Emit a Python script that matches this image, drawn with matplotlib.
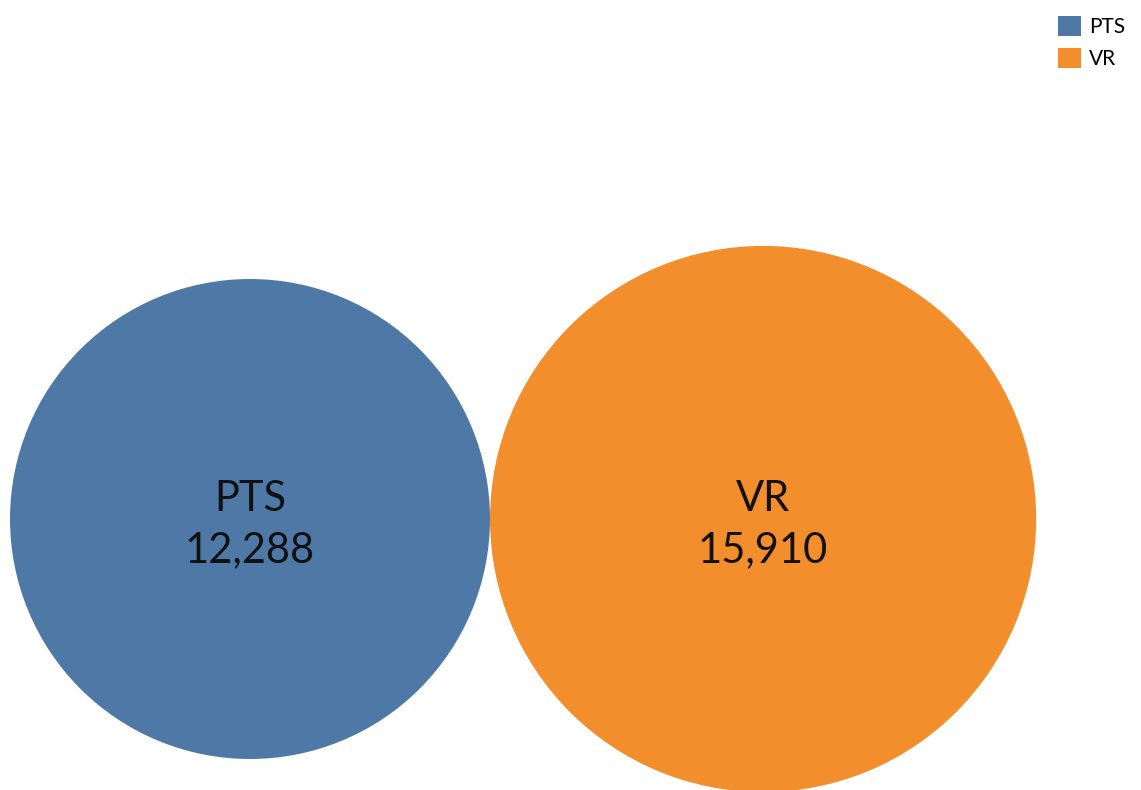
import matplotlib.pyplot as plt
import numpy as np
from matplotlib.patches import Circle, Patch

# values shown in each bubble
labels = ["PTS", "VR"]
values = [12288, 15910]
colors = ["#4e79a7", "#f28e2b"]

plt.rcParams['font.family'] = ['Lato', 'DejaVu Sans']

fig = plt.figure(figsize=(11.41, 7.90), dpi=100)
ax = fig.add_axes([0, 0, 1, 1])
ax.set_xlim(0, 1141)
ax.set_ylim(790, 0)
ax.set_aspect('equal')
ax.axis('off')

# bubble area proportional to value
scale = 240 / np.sqrt(values[0])
radii = [scale * np.sqrt(v) for v in values]

x = 10
cy = 519
for lab, val, col, r in zip(labels, values, colors, radii):
    cx = x + r
    ax.add_patch(Circle((cx, cy), r, facecolor=col, edgecolor='none'))
    ax.text(cx, cy + 6, f"{lab}\n{val:,}", ha='center', va='center',
            fontsize=30, color='#111111', linespacing=1.42)
    x = cx + r

handles = [Patch(facecolor=c, edgecolor='none') for c in colors]
ax.legend(handles, labels, loc='upper right', bbox_to_anchor=(1.0, 1.0),
          frameon=False, fontsize=15, handlelength=1.1, handleheight=1.1,
          handletextpad=0.4, labelspacing=0.55, borderaxespad=0.35)

plt.savefig("out.png")
